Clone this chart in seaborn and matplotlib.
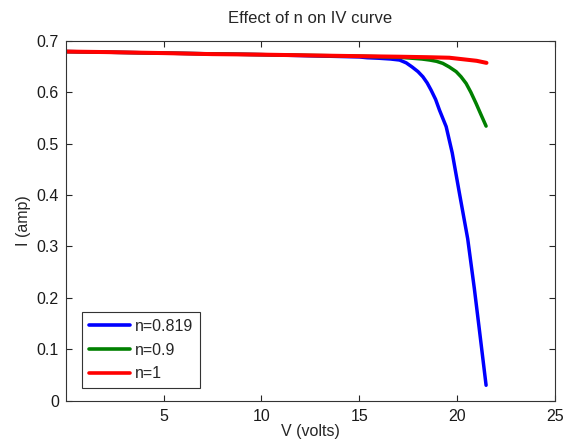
import matplotlib
matplotlib.use("Agg")
import matplotlib.pyplot as plt
import seaborn as sns
import pandas as pd

# Data
v_red = [0.0, 2.0, 5.0, 7.5, 10.0, 12.5, 15.0, 17.0, 18.5, 19.6, 20.3, 21.0, 21.5]
i_red = [0.679, 0.678, 0.676, 0.674, 0.673, 0.6715, 0.670, 0.669, 0.668, 0.667, 0.664, 0.661, 0.657]

v_green = [0.0, 5.0, 10.0, 15.0, 17.0, 17.7, 18.2, 18.6, 18.95, 19.27, 19.6, 19.95,
           20.2, 20.46, 20.7, 20.97, 21.2, 21.48]
i_green = [0.679, 0.676, 0.673, 0.670, 0.668, 0.666, 0.6645, 0.6625, 0.660, 0.656, 0.649, 0.640,
           0.630, 0.617, 0.600, 0.578, 0.558, 0.534]

v_blue = [0.0, 5.0, 10.0, 15.0, 15.4, 16.0, 16.6, 17.06, 17.4, 17.7, 18.0, 18.25, 18.47, 18.67,
          18.9, 19.1, 19.44, 19.75, 20.12, 20.54, 20.88, 21.14, 21.48]
i_blue = [0.679, 0.676, 0.673, 0.6685, 0.667, 0.666, 0.6645, 0.6625, 0.657, 0.649, 0.640, 0.630,
          0.618, 0.604, 0.586, 0.565, 0.533, 0.482, 0.403, 0.315, 0.218, 0.137, 0.030]

labels = ["n=0.819", "n=0.9", "n=1"]
colors = ["#0000ff", "#008000", "#ff0000"]

df = pd.concat([
    pd.DataFrame({"V": v_blue, "I": i_blue, "n": labels[0]}),
    pd.DataFrame({"V": v_green, "I": i_green, "n": labels[1]}),
    pd.DataFrame({"V": v_red, "I": i_red, "n": labels[2]}),
], ignore_index=True)

sns.set_style("white")
plt.rcParams["font.family"] = ["Liberation Sans", "DejaVu Sans"]

fig = plt.figure(figsize=(5.64, 4.43), dpi=100)
ax = fig.add_axes([0.1165, 0.0955, 0.8675, 0.8125])

sns.lineplot(data=df, x="V", y="I", hue="n", palette=dict(zip(labels, colors)),
             hue_order=labels, sort=False, estimator=None, linewidth=2.5, ax=ax)
ax.get_lines()[2].set_linewidth(2.9)

ax.set_xlim(0, 25)
ax.set_ylim(0, 0.7)
ax.set_xticks([5, 10, 15, 20, 25])
ax.set_yticks([0, 0.1, 0.2, 0.3, 0.4, 0.5, 0.6, 0.7])
ax.set_yticklabels(["0", "0.1", "0.2", "0.3", "0.4", "0.5", "0.6", "0.7"])
ax.tick_params(direction="in", length=4, width=0.8, colors="#262626", labelsize=11.5,
               top=True, right=True, bottom=True, left=True, labelcolor="#1a1a1a", pad=5)
ax.tick_params(axis="x", pad=6)
for s in ax.spines.values():
    s.set_color("#333333")
    s.set_linewidth(0.8)
    s.set_visible(True)

ax.set_xlabel("V (volts)", fontsize=11.5, labelpad=0)
ax.set_ylabel("I (amp)", fontsize=11.5, labelpad=4)
ax.set_title("Effect of n on IV curve", fontsize=12, pad=13)

leg = ax.legend(loc="lower left", bbox_to_anchor=(0.034, 0.036), fontsize=11.5,
                frameon=True, fancybox=False, edgecolor="#333333", framealpha=1,
                handlelength=2.6, handletextpad=0.3, borderpad=0.4, labelspacing=0.55,
                borderaxespad=0)
leg.get_frame().set_linewidth(0.8)
for line in leg.get_lines():
    line.set_linewidth(2.6)

fig.savefig("out.png", dpi=100)
